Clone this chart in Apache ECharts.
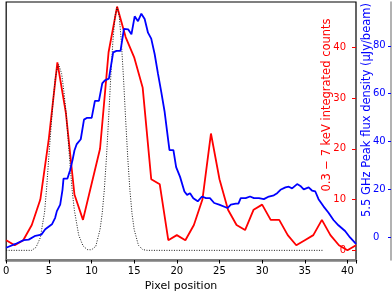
<!DOCTYPE html>
<html>
<head>
<meta charset="utf-8">
<script src="https://cdn.jsdelivr.net/npm/echarts@6/dist/echarts.min.js"></script>
<style>
html,body{margin:0;padding:0;background:#fff;}
#c{width:392px;height:297px;}
</style>
</head>
<body>
<div id="c"></div>
<script>
// ---- data ----
const xTicks = [0, 5, 10, 15, 20, 25, 30, 35, 40];
const redTicks = [0, 10, 20, 30, 40];
const blueTicks = [0, 20, 40, 60, 80];

// X-ray counts per pixel (red)
const redX = [0,1,2,3,4,5,6,7,8,9,10,11,12,13,14,15,16,17,18,19,20,21,22,23,24,25,26,27,28,29,30,31,32,33,34,35,36,37,38,39,40,41];
const redY = [2,1,2,5,10,22,37,27,11,6,13,20,39,48,42,38,32,14,13,2,3,2,5,10,23,14,8,5,4,8,9,6,6,3,1,2,3,6,3,1,0,1];

// 5.5 GHz peak flux density (blue)
const blueX = [0,1.09,2.06,2.64,3.42,4.12,4.58,5.36,5.74,5.94,6.33,6.6,6.72,7.18,7.49,7.77,8.0,8.27,8.74,9.12,9.44,10.02,10.4,10.87,11.26,11.57,12.04,12.54,12.93,13.4,13.8,14.29,14.68,15.06,15.45,15.84,16.23,16.62,17.0,17.4,17.79,18.17,18.56,18.95,19.14,19.6,19.92,20.38,20.89,21.2,21.55,21.93,22.45,22.95,23.41,23.88,24.38,24.96,25.94,26.33,26.91,27.22,27.49,28.07,28.58,29.04,29.62,30.2,30.79,31.37,31.76,32.15,32.73,33.12,33.51,34.1,34.48,34.87,35.45,35.84,36.23,36.61,37.19,37.78,38.36,38.94,39.72,40.3,41.0];
const blueY = [-4.3,-2.7,-1.1,-0.9,0.7,1.2,3.4,5.5,8.2,11.0,13.7,19.9,24.6,24.6,28.1,32.2,36.3,39.0,41.0,49.2,49.9,49.9,57.0,57.0,64.3,65.6,66.3,77.3,77.9,77.9,87.1,86.9,84.8,92.3,90.3,93.4,91.2,85.5,83.0,76.6,68.4,60.9,52.7,41.7,36.5,36.5,29.4,25.3,19.2,17.8,18.5,16.4,15.1,17.1,16.4,16.4,14.4,13.7,12.3,13.7,14.1,14.1,16.4,16.4,17.1,16.4,16.4,16.0,17.1,17.6,18.5,19.9,20.9,21.2,20.5,22.3,21.5,20.1,20.9,19.6,19.2,16.0,13.0,10.3,7.3,5.1,2.7,0.0,-2.7];

// PSF profiles (dotted black), on the counts scale
const psfX = [0,3,3.5,4,4.5,4.75,5,5.25,5.5,5.75,6,6.15,6.25,6.5,6.75,7,7.25,7.5,7.75,8,8.5,9,9.5,10,10.5,11,11.25,11.5,11.75,12,12.25,12.5,12.75,13,13.25,13.5,13.75,14,14.25,14.5,14.75,15,15.5,16,16.5,37.1];
const psfY = [0,0,0.6,2.5,7.5,12.5,18.5,24,29.5,33.8,36,36.6,36.4,34.8,31.5,27.5,22,16.5,11.5,7.8,3.0,0.9,0.15,0.1,0.8,4.1,7.2,11.9,18.2,25.8,33.9,41,46.1,47.9,46.1,41,33.9,25.8,18.2,11.9,7.2,4.1,1.0,0.15,0,0];

const xName = 'Pixel position';
const redName = '0.3 \u2212 7 keV integrated counts';
const blueName = '5.5 GHz Peak flux density (\u03bcJy/beam)';

const zip = (a, b) => a.map((v, i) => [v, b[i]]);
const FONT = 'DejaVu Sans';

const chart = echarts.init(document.getElementById('c'), null, {renderer: 'canvas'});
chart.setOption({
  animation: false,
  backgroundColor: '#fff',
  grid: {left: 4, right: 36, top: 2, bottom: 32.5, show: true, borderColor: '#000', borderWidth: 1.2, backgroundColor: 'transparent'},
  xAxis: {
    type: 'value', min: 0, max: 41, interval: 5,
    name: xName, nameLocation: 'middle', nameGap: 21,
    nameTextStyle: {color: '#000', fontSize: 11, fontFamily: FONT},
    axisLine: {show: true, onZero: false, lineStyle: {color: '#808080', width: 2.5}},
    axisTick: {show: true, length: 3.5, lineStyle: {color: '#000', width: 1}},
    axisLabel: {color: '#000', fontSize: 10, margin: 6, fontFamily: FONT, customValues: xTicks},
    splitLine: {show: false}
  },
  yAxis: [
    {
      type: 'value', position: 'right', min: -1.9, max: 48.9,
      axisLine: {show: false, onZero: false},
      axisTick: {show: true, inside: true, length: 4, lineStyle: {color: '#ff0000'}, customValues: redTicks},
      axisLabel: {inside: true, color: '#ff0000', fontSize: 10, margin: 10, fontFamily: FONT, customValues: redTicks},
      splitLine: {show: false},
      name: redName, nameLocation: 'middle', nameRotate: 90, nameGap: -35, nameMoveOverlap: false,
      nameTextStyle: {color: '#ff0000', fontSize: 11.5, fontFamily: FONT, padding: [0, 0, 0, 52]}
    },
    {
      type: 'value', position: 'right', offset: 35, min: -9.4, max: 98.3,
      axisLine: {show: true, onZero: false, lineStyle: {color: '#999', width: 1.5}},
      axisTick: {show: true, inside: true, length: 3, lineStyle: {color: '#0000ff'}, customValues: blueTicks},
      axisLabel: {inside: true, align: 'left', color: '#0000ff', fontSize: 10, margin: 18, fontFamily: FONT, customValues: blueTicks},
      splitLine: {show: false},
      name: blueName, nameLocation: 'middle', nameRotate: 90, nameGap: -30, nameMoveOverlap: false,
      nameTextStyle: {color: '#0000ff', fontSize: 11.5, fontFamily: FONT, padding: [0, 0, 0, 42]}
    }
  ],
  series: [
    {
      type: 'line', yAxisIndex: 0, data: zip(redX, redY), showSymbol: false, symbol: 'none',
      lineStyle: {color: '#ff0000', width: 1.8}, z: 2
    },
    {
      type: 'line', yAxisIndex: 0, data: zip(psfX, psfY), showSymbol: false, symbol: 'none',
      lineStyle: {color: '#1a1a1a', width: 1, type: [1, 1.5]}, z: 3
    },
    {
      type: 'line', yAxisIndex: 1, data: zip(blueX, blueY), showSymbol: false, symbol: 'none',
      lineStyle: {color: '#0000ff', width: 1.8}, z: 4
    }
  ]
});
</script>
</body>
</html>
